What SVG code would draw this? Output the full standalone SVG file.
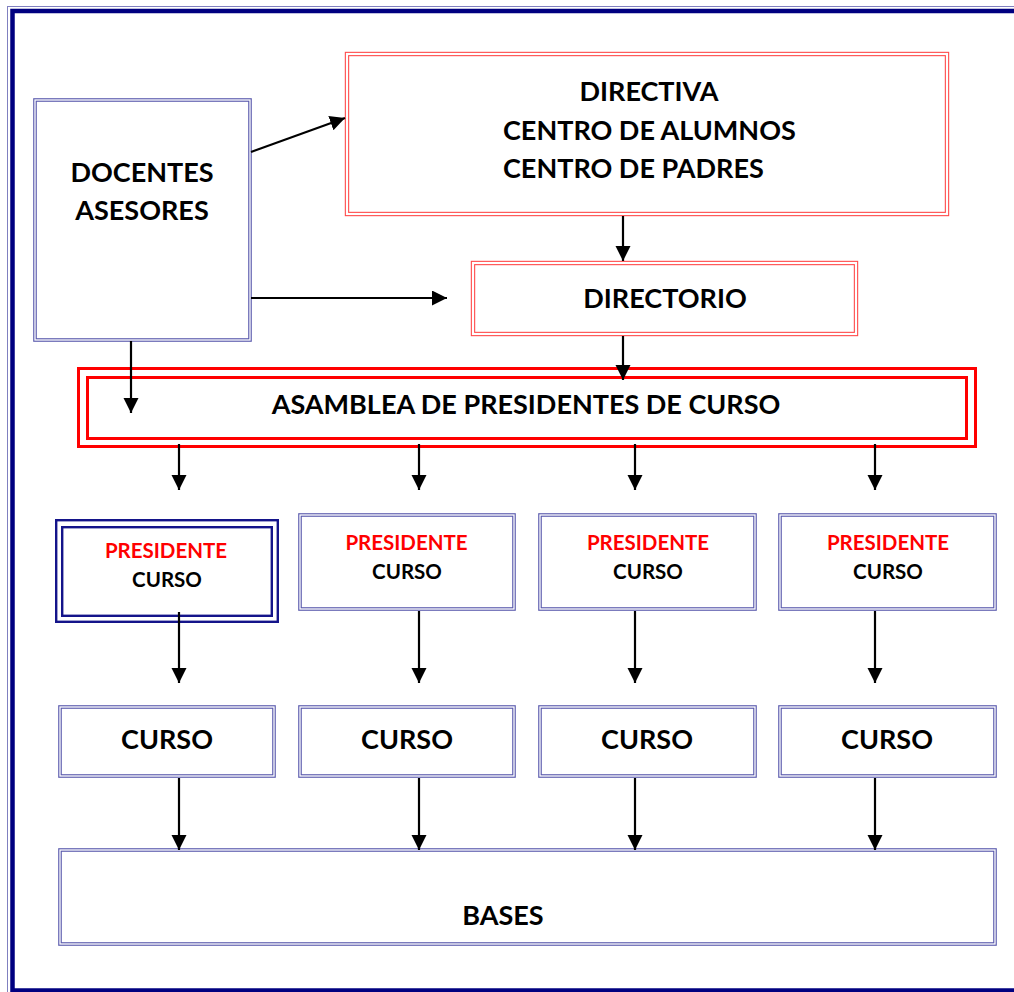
<svg xmlns="http://www.w3.org/2000/svg" width="1014" height="992" viewBox="0 0 1014 992">
<style>
.t{font-family:Lato,"Open Sans","Liberation Sans",sans-serif;font-weight:700;fill:#000}
.big{font-size:27px}
.sm{font-size:20.5px}
.red{fill:#ff0000}
.bo{fill:#fff;stroke:#5a5aad;stroke-width:3.6}
.bi{fill:none;stroke:#fff;stroke-width:1.3}
.ro{fill:#fff;stroke:#ff4a4a;stroke-width:4.4}
.ri{fill:none;stroke:#fff;stroke-width:2.2}
.ar{stroke:#000;stroke-width:2.2;fill:none;marker-end:url(#ah)}
</style>
<defs>
<marker id="ah" markerUnits="userSpaceOnUse" markerWidth="16" markerHeight="16" refX="15" refY="7.5" orient="auto">
<path d="M0,0 L15,7.5 L0,15 z" fill="#000"/>
</marker>
</defs>
<rect width="1014" height="992" fill="#fff"/>
<g id="page-border">
<rect x="7.5" y="6.5" width="1030" height="992" fill="none" stroke="#8080c0" stroke-width="1"/>
<rect x="12.5" y="11" width="1020" height="979.5" fill="none" stroke="#000080" stroke-width="4.5"/>
</g>
<g id="docentes">
<rect class="bo" x="35" y="100" width="215" height="240"/>
<rect class="bi" x="35" y="100" width="215" height="240"/>
<text class="t big" x="142" y="182" text-anchor="middle">DOCENTES</text>
<text class="t big" x="142" y="220" text-anchor="middle">ASESORES</text>
</g>
<g id="directiva">
<rect class="ro" x="347" y="54" width="600" height="160"/>
<rect class="ri" x="347" y="54" width="600" height="160"/>
<text class="t big" x="649" y="101" text-anchor="middle">DIRECTIVA</text>
<text class="t big" x="503" y="140">CENTRO DE ALUMNOS</text>
<text class="t big" x="503" y="178">CENTRO DE PADRES</text>
</g>
<g id="directorio">
<rect class="ro" x="473" y="263" width="383" height="71"/>
<rect class="ri" x="473" y="263" width="383" height="71"/>
<text class="t big" x="665" y="308" text-anchor="middle">DIRECTORIO</text>
</g>
<g id="asamblea">
<rect x="78.5" y="368.5" width="897" height="78" fill="#fff" stroke="#ff0000" stroke-width="3"/>
<rect x="87.5" y="377.5" width="879" height="61" fill="none" stroke="#ff0000" stroke-width="3"/>
<text class="t big" x="526" y="414" text-anchor="middle">ASAMBLEA DE PRESIDENTES DE CURSO</text>
</g>
<g id="presidente-1">
<rect x="56.2" y="520.2" width="221.6" height="101.6" fill="#fff" stroke="#14148a" stroke-width="2.4"/>
<rect x="62.2" y="527.2" width="209.6" height="88.6" fill="none" stroke="#14148a" stroke-width="2.4"/>
<text class="t sm red" x="166" y="558" text-anchor="middle">PRESIDENTE</text>
<text class="t sm" x="167" y="587" text-anchor="middle">CURSO</text>
</g>
<g id="presidente-2">
<rect class="bo" x="300" y="515" width="214" height="94"/>
<rect class="bi" x="300" y="515" width="214" height="94"/>
<text class="t sm red" x="406.5" y="550" text-anchor="middle">PRESIDENTE</text>
<text class="t sm" x="407" y="579" text-anchor="middle">CURSO</text>
</g>
<g id="presidente-3">
<rect class="bo" x="540" y="515" width="215" height="94"/>
<rect class="bi" x="540" y="515" width="215" height="94"/>
<text class="t sm red" x="648" y="550" text-anchor="middle">PRESIDENTE</text>
<text class="t sm" x="648" y="579" text-anchor="middle">CURSO</text>
</g>
<g id="presidente-4">
<rect class="bo" x="780" y="515" width="215" height="94"/>
<rect class="bi" x="780" y="515" width="215" height="94"/>
<text class="t sm red" x="888" y="550" text-anchor="middle">PRESIDENTE</text>
<text class="t sm" x="888" y="579" text-anchor="middle">CURSO</text>
</g>
<g id="curso-1">
<rect class="bo" x="60" y="707" width="214" height="69"/>
<rect class="bi" x="60" y="707" width="214" height="69"/>
<text class="t big" x="167" y="749" text-anchor="middle">CURSO</text>
</g>
<g id="curso-2">
<rect class="bo" x="300" y="707" width="214" height="69"/>
<rect class="bi" x="300" y="707" width="214" height="69"/>
<text class="t big" x="407" y="749" text-anchor="middle">CURSO</text>
</g>
<g id="curso-3">
<rect class="bo" x="540" y="707" width="215" height="69"/>
<rect class="bi" x="540" y="707" width="215" height="69"/>
<text class="t big" x="647" y="749" text-anchor="middle">CURSO</text>
</g>
<g id="curso-4">
<rect class="bo" x="780" y="707" width="215" height="69"/>
<rect class="bi" x="780" y="707" width="215" height="69"/>
<text class="t big" x="887" y="749" text-anchor="middle">CURSO</text>
</g>
<g id="bases">
<rect class="bo" x="60" y="850" width="935" height="94"/>
<rect class="bi" x="60" y="850" width="935" height="94"/>
<text class="t big" x="503" y="925" text-anchor="middle">BASES</text>
</g>
<g id="connectors">
<line class="ar" x1="251" y1="152" x2="345" y2="118"/>
<line class="ar" x1="251" y1="298" x2="447" y2="298"/>
<line class="ar" x1="131" y1="341" x2="131" y2="413"/>
<line class="ar" x1="623" y1="216" x2="623" y2="261"/>
<line class="ar" x1="623" y1="336" x2="623" y2="380"/>
<line class="ar" x1="179" y1="444" x2="179" y2="490"/>
<line class="ar" x1="419" y1="444" x2="419" y2="490"/>
<line class="ar" x1="635" y1="444" x2="635" y2="490"/>
<line class="ar" x1="875" y1="444" x2="875" y2="490"/>
<line class="ar" x1="179" y1="612" x2="179" y2="683"/>
<line class="ar" x1="419" y1="611" x2="419" y2="683"/>
<line class="ar" x1="635" y1="611" x2="635" y2="683"/>
<line class="ar" x1="875" y1="611" x2="875" y2="683"/>
<line class="ar" x1="179" y1="778" x2="179" y2="850"/>
<line class="ar" x1="419" y1="778" x2="419" y2="850"/>
<line class="ar" x1="635" y1="778" x2="635" y2="850"/>
<line class="ar" x1="875" y1="778" x2="875" y2="850"/>
</g>
</svg>
